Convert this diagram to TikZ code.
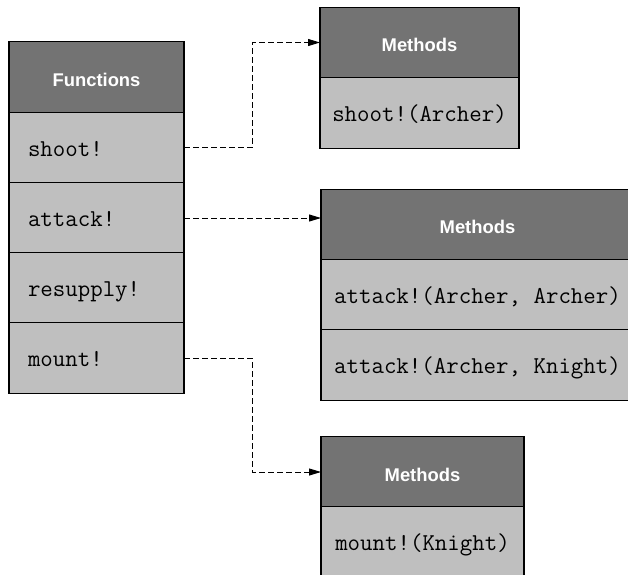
\documentclass[tikz,border=0pt]{standalone}
\usepackage{fontspec}
\newfontfamily\hdrfont{Liberation Sans}
\newfontfamily\monofont{Latin Modern Mono}
\usetikzlibrary{arrows.meta}
\definecolor{hdrgray}{HTML}{737373}
\definecolor{rowgray}{HTML}{BFBFBF}
\begin{document}
\begin{tikzpicture}[x=1pt,y=-1pt,
  cell/.style={draw=black,line width=1.3pt,rectangle,inner sep=0pt,outer sep=0pt},
  hdr/.style={cell,fill=hdrgray,text=white,font=\hdrfont\bfseries\fontsize{18.4}{22}\selectfont,minimum height=70.5pt,text height=18.4pt,text depth=0pt},
  row/.style={cell,fill=rowgray,text=black,font=\monofont\fontsize{24.2}{28}\selectfont,minimum height=70.5pt,text height=17pt,text depth=0pt},
  frow/.style={row,minimum width=175pt,text width=137pt,align=left,inner xsep=19pt},
  link/.style={line width=1pt,dash pattern=on 6pt off 3pt,-{Triangle[length=12pt,width=7pt]}}
]
\useasboundingbox (0,0) rectangle (628,574);
\clip (0,0) rectangle (628,574);
% Functions
\node[hdr,minimum width=175pt] (fh) at (96.5,77) {Functions};
\node[frow] (f1) at (96.5,147.5) {shoot!};
\node[frow] (f2) at (96.5,218) {attack!};
\node[frow] (f3) at (96.5,288) {resupply!};
\node[frow] (f4) at (96.5,358) {mount!};
% Methods 1
\node[hdr,minimum width=199pt] (m1h) at (419.5,42.5) {Methods};
\node[row,minimum width=199pt] (m1a) at (419.5,113) {shoot!(Archer)};
% Methods 2
\node[hdr,minimum width=313pt] (m2h) at (477.5,224.5) {Methods};
\node[row,minimum width=313pt] (m2a) at (477.5,295) {attack!(Archer, Archer)};
\node[row,minimum width=313pt] (m2b) at (477.5,365) {attack!(Archer, Knight)};
% Methods 3
\node[hdr,minimum width=203pt] (m3h) at (422.5,472) {Methods};
\node[row,minimum width=203pt] (m3a) at (422.5,542) {mount!(Knight)};
% connectors
\draw[link] (f1.east) -- ++(68,0) |- (m1h.west);
\draw[link] (f2.east) -- (f2.east -| m2h.west);
\draw[link] (f4.east) -- ++(68,0) |- (m3h.west);
\end{tikzpicture}
\end{document}
